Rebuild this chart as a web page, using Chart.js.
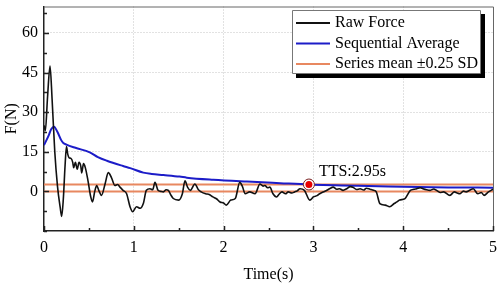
<!DOCTYPE html>
<html>
<head>
<meta charset="utf-8">
<script src="https://cdn.jsdelivr.net/npm/chart.js@4.4.1/dist/chart.umd.min.js"></script>
<style>
  html, body { margin: 0; padding: 0; background: #fff; }
  #wrap { width: 500px; height: 286px; position: relative; }
</style>
</head>
<body>
<div id="wrap"><canvas id="chart"></canvas></div>
<script>
// raw force trace
const rawTime = [0.00, 0.015, 0.04, 0.067, 0.09, 0.12, 0.15, 0.18, 0.197, 0.215, 0.235, 0.25, 0.265, 0.28, 0.30, 0.32, 0.33, 0.35, 0.37, 0.39, 0.41, 0.42, 0.44, 0.46, 0.49, 0.52, 0.54, 0.565, 0.587, 0.61, 0.64, 0.68, 0.716, 0.75, 0.79, 0.82, 0.846, 0.88, 0.92, 0.958, 0.988, 1.03, 1.07, 1.106, 1.14, 1.18, 1.21, 1.236, 1.27, 1.30, 1.33, 1.36, 1.385, 1.41, 1.44, 1.5, 1.54, 1.57, 1.6, 1.63, 1.68, 1.72, 1.75, 1.8, 1.84, 1.88, 1.92, 1.96, 2.0, 2.03, 2.08, 2.13, 2.18, 2.21, 2.24, 2.29, 2.35, 2.405, 2.44, 2.46, 2.49, 2.515, 2.55, 2.59, 2.62, 2.65, 2.69, 2.72, 2.76, 2.79, 2.82, 2.85, 2.9, 2.96, 3.0, 3.04, 3.07, 3.11, 3.15, 3.18, 3.22, 3.26, 3.29, 3.33, 3.37, 3.41, 3.44, 3.48, 3.52, 3.56, 3.59, 3.63, 3.67, 3.7, 3.74, 3.8, 3.85, 3.9, 3.93, 3.96, 4.02, 4.08, 4.12, 4.15, 4.19, 4.22, 4.26, 4.3, 4.34, 4.37, 4.41, 4.45, 4.52, 4.57, 4.6, 4.63, 4.67, 4.7, 4.74, 4.78, 4.83, 4.87, 4.9, 4.95, 5.0];
const rawForce = [25, 23, 36, 47.5, 35, 15, 2, -6, -9.5, -3, 10, 17, 14, 12.7, 12.5, 11, 9, 11, 8.4, 11, 9.5, 7, 10.5, 9, 4, -2, -4, 0, 2.2, 0.4, -1.5, 2.8, 7.1, 5.3, 2.2, 2.6, 1.6, 0.4, -0.9, -5.8, -7.7, -5.8, -6.4, -4.6, 0.4, 1, 0.6, 3.4, 0.4, 0.0, -0.2, 0.6, 0.4, -1.2, -2.7, -3.3, -1, 4, 1.5, 0.4, 2.8, 0.6, -0.2, -0.9, -1.2, -2.1, -2.8, -4, -4.4, -5.2, -3.3, -2.7, 3.4, 1.8, -0.9, -0.2, -0.9, 2.8, 2.0, 2.2, 1.4, 1.6, -0.9, -2.1, -1.0, -0.2, -0.9, -0.2, -0.6, -0.2, 0.2, 1, 0.4, -3.3, -2.1, -1.6, -0.9, -0.2, 0.4, 1.0, 1.6, 0.8, 1, 0.4, 1, 1.8, 1.6, 0.7, 1, 0.5, 1.2, 0.8, 0.4, -0.2, -4.6, -5.2, -5.8, -4.6, -4.0, -3.3, -2.7, 0.4, 0.8, 1, 1.4, 1, 0.6, 0.4, 0.9, 0.4, -0.4, -0.2, -1.5, -0.2, -0.6, -0.9, 0.1, -0.2, 0.4, 1, -0.9, -0.4, -1.5, -0.2, 0.8];

// sequential average
const avgTime = [0.0, 0.05, 0.08, 0.111, 0.15, 0.19, 0.215, 0.25, 0.35, 0.51, 0.6, 0.70, 0.88, 0.96, 1.106, 1.2, 1.33, 1.51, 1.59, 1.885, 2.26, 2.63, 2.95, 3.5, 4.0, 4.5, 5.0];
const avgForce = [17.5, 21, 23.5, 24.5, 22.5, 19.5, 18.3, 17.7, 16.5, 14.8, 13, 11.6, 9.6, 8.8, 7.1, 6.6, 6.2, 5.6, 5.2, 4.4, 3.7, 3.1, 2.6, 2.1, 1.8, 1.5, 1.4];

// series mean band (two horizontal levels)
const bandLevels = [0, 2.6];
const xRange = [0, 5];

// time to steady
const ttsTime = [2.95];
const ttsForce = [2.6];
const ttsLabel = "TTS:2.95s";

const xTickValues = [0, 0.5, 1, 1.5, 2, 2.5, 3, 3.5, 4, 4.5, 5];
const xTickLabels = [0, 1, 2, 3, 4, 5];
const yTickValues = [-15, -7.5, 0, 7.5, 15, 22.5, 30, 37.5, 45, 52.5, 60, 67.5];
const yTickLabels = [0, 15, 30, 45, 60];

const FONT = "'Liberation Serif', 'Times New Roman', serif";
const ORANGE = "rgb(232,136,96)";
const BLUE = "rgb(28,28,200)";

const pts = (xs, ys) => xs.map((x, i) => ({ x: x, y: ys[i] }));

const datasets = [
  {
    label: "Raw Force", legend: true, order: 2,
    data: pts(rawTime, rawForce),
    borderColor: "#111", borderWidth: 1.6, pointRadius: 0,
    cubicInterpolationMode: "monotone"
  },
  {
    label: "Sequential Average", legend: true, order: 3,
    data: pts(avgTime, avgForce),
    borderColor: BLUE, borderWidth: 2, pointRadius: 0,
    cubicInterpolationMode: "monotone"
  }
];
bandLevels.forEach((lv, i) => {
  datasets.push({
    label: "Series mean \u00b10.25 SD", legend: i === 0, order: 4,
    data: pts(xRange, [lv, lv]),
    borderColor: ORANGE, borderWidth: 2, pointRadius: 0
  });
});
// marker: dark outer ring, then red dot with white rim
datasets.push({
  label: "tts ring", order: 1, showLine: false,
  data: pts(ttsTime, ttsForce),
  pointRadius: 5.5, pointBackgroundColor: "#fff",
  pointBorderColor: "#7a2020", pointBorderWidth: 1
});
datasets.push({
  label: "tts", order: 0, showLine: false,
  data: pts(ttsTime, ttsForce),
  pointRadius: 3.5, pointBackgroundColor: "#e80000",
  pointBorderColor: "#e80000", pointBorderWidth: 0
});

const annotate = {
  id: "annotate",
  afterDraw(chart) {
    const ctx = chart.ctx;
    const a = chart.chartArea;
    const xs = chart.scales.x, ys = chart.scales.y;
    ctx.save();
    // frame top/right
    ctx.strokeStyle = "#666";
    ctx.lineWidth = 1;
    ctx.beginPath();
    ctx.moveTo(a.left, a.top + 0.5); ctx.lineTo(a.right + 0.5, a.top + 0.5);
    ctx.lineTo(a.right + 0.5, a.bottom);
    ctx.stroke();
    // inward ticks
    ctx.strokeStyle = "#222";
    ctx.lineWidth = 1.5;
    ctx.beginPath();
    xTickValues.forEach(v => {
      const px = Math.round(xs.getPixelForValue(v)) + 0.5;
      const len = xTickLabels.includes(v) ? 5 : 3;
      ctx.moveTo(px, a.bottom); ctx.lineTo(px, a.bottom - len);
    });
    yTickValues.forEach(v => {
      const py = Math.round(ys.getPixelForValue(v)) + 0.5;
      const len = yTickLabels.includes(v) ? 5 : 3;
      ctx.moveTo(a.left, py); ctx.lineTo(a.left + len, py);
    });
    ctx.stroke();

    // tts label
    const tx = xs.getPixelForValue(ttsTime[0]);
    const ty = ys.getPixelForValue(ttsForce[0]);
    ctx.fillStyle = "#000";
    ctx.font = "16px " + FONT;
    ctx.textBaseline = "alphabetic";
    ctx.textAlign = "left";
    ctx.fillText(ttsLabel, tx + 10, ty - 9);

    // legend box with drop shadow
    const items = chart.data.datasets.filter(d => d.legend);
    const bx = 292, by = 10, bw = 188, bh = 63;
    ctx.fillStyle = "#000";
    ctx.beginPath();
    ctx.rect(bx + 4, by + 4, bw + 1, bh + 1);
    ctx.fill();
    ctx.fillStyle = "#fff";
    ctx.beginPath();
    ctx.rect(bx, by, bw, bh);
    ctx.fill();
    ctx.strokeStyle = "#777";
    ctx.lineWidth = 1;
    ctx.beginPath();
    ctx.rect(bx + 0.5, by + 0.5, bw, bh);
    ctx.stroke();
    ctx.textBaseline = "middle";
    items.forEach((d, i) => {
      const y = by + 13 + i * 20.5;
      ctx.strokeStyle = d.borderColor;
      ctx.lineWidth = 2;
      ctx.beginPath();
      ctx.moveTo(bx + 4, y); ctx.lineTo(bx + 38, y);
      ctx.stroke();
      ctx.fillStyle = "#000";
      ctx.fillText(d.label, bx + 43, y);
    });
    ctx.restore();
  }
};

new Chart(document.getElementById("chart"), {
  type: "line",
  data: { datasets: datasets },
  options: {
    responsive: true,
    maintainAspectRatio: false,
    animation: false,
    layout: { padding: { top: 2, right: 7, left: 0, bottom: 0 } },
    plugins: { legend: { display: false }, tooltip: { enabled: false } },
    scales: {
      x: {
        type: "linear", min: 0, max: 5,
        afterBuildTicks: s => { s.ticks = xTickValues.map(v => ({ value: v })); },
        afterFit: s => { s.height = 55; s.paddingLeft = 0; s.paddingRight = 0; },
        ticks: {
          autoSkip: false, maxRotation: 0, padding: 7, color: "#000",
          font: { family: FONT, size: 16 },
          callback: v => xTickLabels.includes(v) ? String(v) : ""
        },
        grid: {
          drawTicks: false,
          color: c => (c.tick && xTickLabels.includes(c.tick.value) && c.tick.value !== 0 && c.tick.value !== 5) ? "#c4c4c4" : "rgba(0,0,0,0)",
          lineWidth: 1
        },
        border: { display: true, color: "#222", width: 1.5, dash: [1, 2] },
        title: { display: true, text: "Time(s)", color: "#000", padding: { top: 2, bottom: 2 }, font: { family: FONT, size: 16 } }
      },
      y: {
        type: "linear", min: -15, max: 70,
        afterBuildTicks: s => { s.ticks = yTickValues.map(v => ({ value: v })); },
        afterFit: s => { s.width = 44; s.paddingTop = 0; s.paddingBottom = 0; },
        ticks: {
          autoSkip: false, padding: 6, color: "#000",
          font: { family: FONT, size: 16 },
          callback: v => yTickLabels.includes(v) ? String(v) : ""
        },
        grid: {
          drawTicks: false,
          color: c => (c.tick && yTickLabels.includes(c.tick.value) && c.tick.value !== 0) ? "#c4c4c4" : "rgba(0,0,0,0)",
          lineWidth: 1
        },
        border: { display: true, color: "#222", width: 1.5, dash: [1, 2] },
        title: { display: true, text: "F(N)", color: "#000", padding: { top: 2, bottom: 2 }, font: { family: FONT, size: 16 } }
      }
    }
  },
  plugins: [annotate]
});
</script>
</body>
</html>
